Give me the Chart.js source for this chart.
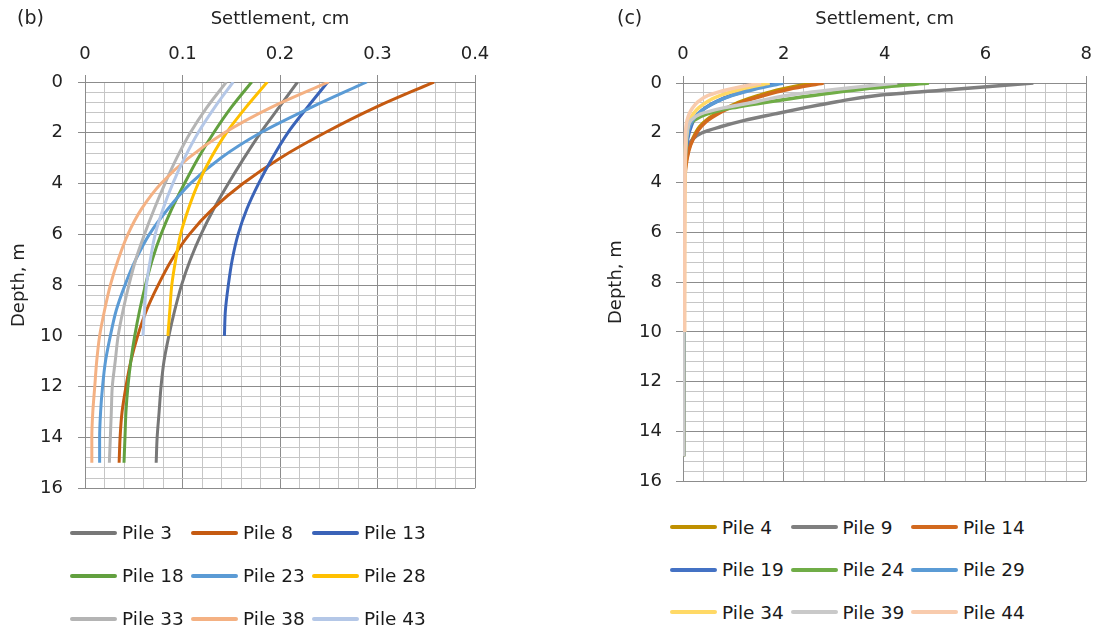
<!DOCTYPE html>
<html>
<head>
<meta charset="utf-8">
<title>Settlement along piles</title>
<script src="https://cdn.jsdelivr.net/npm/chart.js@4.4.0/dist/chart.umd.min.js"></script>
<style>
	body { margin: 0; background: #fff; font-family: "DejaVu Sans", sans-serif; }
	#page { position: relative; width: 1095px; height: 634px; overflow: hidden; }
	.panel { position: absolute; top: 0; }
	canvas { display: block; }
	.legend { position: absolute; display: grid; grid-template-columns: repeat(3, 121px); grid-auto-rows: 43px; align-items: center; font-size: 18.5px; color: #1a1a1a; }
	.legend div { display: flex; align-items: center; white-space: nowrap; }
	.legend .swatch { display: inline-block; width: 47px; height: 4px; border-radius: 2px; margin-right: 5px; }
</style>
</head>
<body>
<div id="page">
	<div class="panel" style="left:0px"><canvas id="chartB" width="520" height="514"></canvas></div>
	<div class="panel" style="left:600px"><canvas id="chartC" width="503" height="506"></canvas></div>
	<div class="legend" id="legendB" style="left:70px; top:511px"></div>
	<div class="legend" id="legendC" style="left:670px; top:506px; grid-auto-rows:42.5px; grid-template-columns:repeat(3, 120.5px)"></div>
</div>
<script>
// (b) depth in m, settlement in cm
const depthB = [0, 1, 2, 3, 4, 5, 6, 7, 8, 9, 10, 11, 12, 13, 14, 15];
const pilesB = ["Pile 3", "Pile 8", "Pile 13", "Pile 18", "Pile 23", "Pile 28", "Pile 33", "Pile 38", "Pile 43"];
const colorsB = ["#777777", "#c55a11", "#3a63b8", "#62a03f", "#5b9bd5", "#ffc000", "#b4b4b4", "#f4b183", "#b4c7e7"];
const pile3 = [0.218, 0.199, 0.18, 0.163, 0.147, 0.132, 0.119, 0.108, 0.099, 0.092, 0.086, 0.081, 0.078, 0.076, 0.074, 0.073];
const pile8 = [0.358, 0.298, 0.246, 0.2, 0.162, 0.131, 0.107, 0.089, 0.075, 0.063, 0.054, 0.047, 0.042, 0.038, 0.036, 0.035];
const pile13 = [0.249, 0.228, 0.208, 0.192, 0.178, 0.166, 0.157, 0.151, 0.147, 0.144, 0.143];
const pile18 = [0.171, 0.15, 0.132, 0.116, 0.102, 0.089, 0.078, 0.069, 0.062, 0.056, 0.051, 0.047, 0.044, 0.042, 0.041, 0.04];
const pile23 = [0.289, 0.232, 0.18, 0.139, 0.108, 0.085, 0.066, 0.052, 0.041, 0.032, 0.026, 0.021, 0.018, 0.016, 0.015, 0.015];
const pile28 = [0.187, 0.165, 0.145, 0.129, 0.116, 0.106, 0.098, 0.093, 0.089, 0.087, 0.085];
const pile33 = [0.145, 0.125, 0.108, 0.094, 0.082, 0.071, 0.061, 0.052, 0.045, 0.039, 0.034, 0.031, 0.028, 0.027, 0.026, 0.025];
const pile38 = [0.25, 0.191, 0.143, 0.106, 0.078, 0.058, 0.044, 0.034, 0.026, 0.02, 0.015, 0.012, 0.01, 0.008, 0.007, 0.007];
const pile43 = [0.152, 0.133, 0.116, 0.102, 0.09, 0.08, 0.072, 0.067, 0.063, 0.061, 0.0595];

// (c)
const depthC = [0, 0.25, 0.5, 0.75, 1, 1.25, 1.5, 1.75, 2, 2.5, 3, 3.5, 4, 5, 6, 7, 8, 9, 10, 11, 12, 13, 14, 15];
const pilesC = ["Pile 4", "Pile 9", "Pile 14", "Pile 19", "Pile 24", "Pile 29", "Pile 34", "Pile 39", "Pile 44"];
const colorsC = ["#bf9000", "#7f7f7f", "#d2691e", "#4472c4", "#70ad47", "#5b9bd5", "#ffd966", "#c9c9c9", "#f8cbad"];
const pile4 = [2.6, 1.95, 1.5, 1.14, 0.87, 0.64, 0.46, 0.33, 0.25, 0.14, 0.075, 0.04, 0.028, 0.02, 0.018, 0.016, 0.015, 0.014, 0.013, 0.012, 0.012, 0.011, 0.011, 0.01];
const pile9 = [6.95, 5.4, 3.85, 3.05, 2.4, 1.8, 1.22, 0.76, 0.38, 0.1, 0.05, 0.035, 0.027, 0.02, 0.02, 0.018, 0.016, 0.015, 0.014, 0.013, 0.012, 0.012, 0.011, 0.011];
const pile14 = [2.79, 2.1, 1.6, 1.2, 0.92, 0.68, 0.49, 0.36, 0.27, 0.15, 0.085, 0.05, 0.032, 0.02, 0.018, 0.016, 0.015, 0.014, 0.013, 0.012, 0.012, 0.011, 0.011, 0.01];
const pile19 = [1.85, 1.35, 0.95, 0.66, 0.44, 0.3, 0.21, 0.16, 0.12, 0.07, 0.045, 0.035, 0.028, 0.022, 0.02, 0.018, 0.016, 0.015, 0.014];
const pile24 = [4.88, 3.55, 2.58, 1.72, 0.98, 0.47, 0.22, 0.12, 0.08, 0.05, 0.037, 0.03, 0.025, 0.02, 0.02, 0.018, 0.016, 0.015, 0.014, 0.013, 0.012, 0.012, 0.011, 0.011];
const pile29 = [1.99, 1.42, 0.98, 0.67, 0.45, 0.29, 0.19, 0.13, 0.1, 0.06, 0.04, 0.03, 0.025, 0.02, 0.02, 0.018, 0.016, 0.015, 0.014, 0.013, 0.012, 0.012, 0.011, 0.011];
const pile34 = [1.72, 1.15, 0.74, 0.48, 0.31, 0.2, 0.13, 0.1, 0.08, 0.06, 0.05, 0.045, 0.04, 0.035, 0.032, 0.03, 0.03, 0.028, 0.028];
const pile39 = [4.25, 3.05, 2.05, 1.45, 0.8, 0.34, 0.16, 0.1, 0.075, 0.05, 0.04, 0.03, 0.025, 0.02, 0.02, 0.018, 0.016, 0.015, 0.014, 0.013, 0.012, 0.012, 0.011, 0.011];
const pile44 = [1.55, 0.92, 0.5, 0.3, 0.19, 0.12, 0.08, 0.06, 0.05, 0.045, 0.042, 0.04, 0.04, 0.038, 0.036, 0.035, 0.034, 0.033, 0.032];

const MAJOR = "#8c8c8c";
const MINOR = "#c6c6c6";
const TEXT = "#222222";
const FONT = "'DejaVu Sans', sans-serif";

function isMajor(v, major) {
	return Math.abs(v / major - Math.round(v / major)) < 1e-6;
}

function tickLabel(v, major) {
	if (!isMajor(v, major)) return "";
	return String(parseFloat((Math.round(v / major) * major).toFixed(3)));
}

// "(b)" / "(c)" in the corner
const panelLabel = {
	id: "panelLabel",
	afterDraw(chart, args, opts) {
		const ctx = chart.ctx;
		ctx.save();
		ctx.font = "19px " + FONT;
		ctx.fillStyle = TEXT;
		ctx.textBaseline = "middle";
		ctx.fillText(opts.text, 17, 19);
		ctx.restore();
	},
};

function buildDatasets(labels, values, colors, depths, width) {
	const datasets = [];
	labels.forEach((label, i) => {
		datasets.push({
			label: label,
			data: values[i].map((v, k) => ({ x: v, y: depths[k] })),
			borderColor: colors[i],
			backgroundColor: colors[i],
			borderWidth: width,
			pointRadius: 0,
			cubicInterpolationMode: "monotone",
			order: labels.length - i, // last series on top, like Excel
		});
	});
	return datasets;
}

function buildLegend(chart, elId) {
	const box = document.getElementById(elId);
	chart.data.datasets.forEach((ds) => {
		const item = document.createElement("div");
		const swatch = document.createElement("span");
		swatch.className = "swatch";
		swatch.style.background = ds.borderColor;
		item.appendChild(swatch);
		item.appendChild(document.createTextNode(ds.label));
		box.appendChild(item);
	});
}

function initChart(canvasId, datasets, cfg) {
	const axisGrid = (major) => ({
		color: (c) => (c.tick && isMajor(c.tick.value, major) ? MAJOR : MINOR),
		tickColor: (c) => (c.tick && isMajor(c.tick.value, major) ? MAJOR : "rgba(0,0,0,0)"),
		tickLength: 7,
		lineWidth: 1,
	});
	const tickFont = { family: FONT, size: 18 };
	const titleFont = { family: FONT, size: 18 };

	return new Chart(document.getElementById(canvasId), {
		type: "line",
		data: { datasets: datasets },
		options: {
			responsive: false,
			animation: false,
			indexAxis: "y",
			layout: { padding: cfg.padding },
			plugins: {
				legend: { display: false },
				tooltip: { enabled: false },
				panelLabel: { text: cfg.tag },
			},
			scales: {
				x: {
					type: "linear",
					position: "top",
					min: 0,
					max: cfg.xMax,
					afterFit: (s) => {
						s.height = cfg.top;
					},
					ticks: {
						stepSize: cfg.xStep,
						autoSkip: false,
						maxRotation: 0,
						padding: cfg.xTickPad,
						color: TEXT,
						font: tickFont,
						callback: (v) => tickLabel(v, cfg.xMajor),
					},
					grid: axisGrid(cfg.xMajor),
					border: { color: MAJOR },
					title: { display: true, text: "Settlement, cm", color: TEXT, font: titleFont, padding: { top: 9, bottom: 0 } },
				},
				y: {
					type: "linear",
					reverse: true,
					min: 0,
					max: 16,
					afterFit: (s) => {
						s.width = cfg.left;
					},
					ticks: {
						stepSize: 0.4,
						autoSkip: false,
						padding: cfg.yTickPad,
						color: TEXT,
						font: tickFont,
						callback: (v) => tickLabel(v, 2),
					},
					grid: axisGrid(2),
					border: { color: MAJOR },
					title: { display: true, text: "Depth, m", color: TEXT, font: titleFont, padding: { top: cfg.yTitlePad, bottom: 0 } },
				},
			},
		},
		plugins: [panelLabel],
	});
}

const chartB = initChart(
	"chartB",
	buildDatasets(pilesB, [pile3, pile8, pile13, pile18, pile23, pile28, pile33, pile38, pile43], colorsB, depthB, 3),
	{ tag: "(b)", xMax: 0.4, xStep: 0.02, xMajor: 0.1, top: 82, left: 85, xTickPad: 10, yTickPad: 15, yTitlePad: 9, padding: { left: 0, right: 45, top: 0, bottom: 0 } }
);
const chartC = initChart(
	"chartC",
	buildDatasets(pilesC, [pile4, pile9, pile14, pile19, pile24, pile29, pile34, pile39, pile44], colorsC, depthC, 3.5),
	{ tag: "(c)", xMax: 8, xStep: 0.4, xMajor: 2, top: 83, left: 83, xTickPad: 11, yTickPad: 14, yTitlePad: 6, padding: { left: 0, right: 0, top: 0, bottom: 0 } }
);

buildLegend(chartB, "legendB");
buildLegend(chartC, "legendC");
</script>
</body>
</html>
